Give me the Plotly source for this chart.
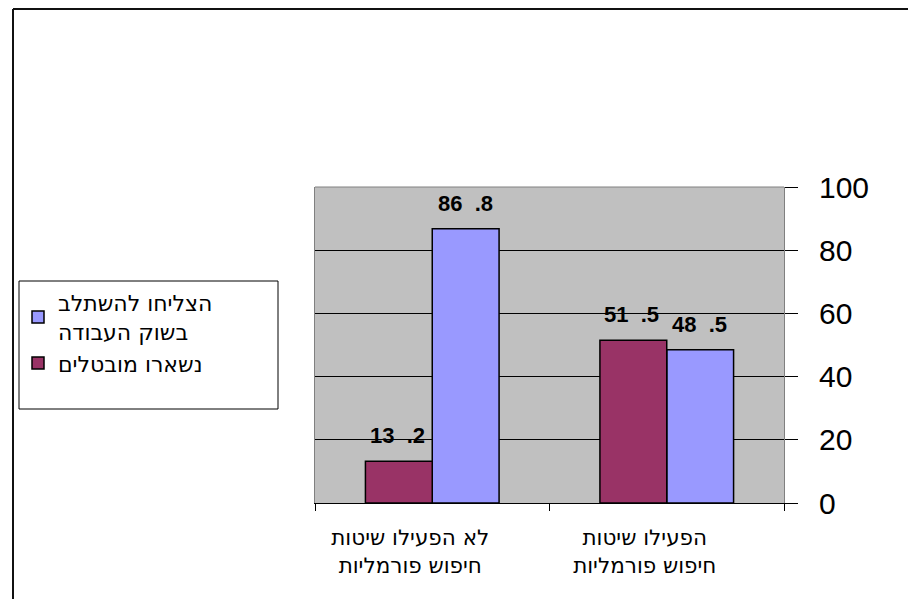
import plotly.graph_objects as go

# Data
categories = ["הפעילו שיטות חיפוש פורמליות", "לא הפעילו שיטות חיפוש פורמליות"]
category_labels = ["הפעילו שיטות<br>חיפוש פורמליות", "לא הפעילו שיטות<br>חיפוש פורמליות"]
series_names = ["הצליחו להשתלב<br>בשוק העבודה", "נשארו מובטלים"]
employed = [48.5, 86.8]
unemployed = [51.5, 13.2]
y_ticks = [0, 20, 40, 60, 80, 100]

colors = ["#9999FF", "#993366"]
series_values = [employed, unemployed]

W, H = 908, 599
ML, MR, MT, MB = 315, 124, 187, 96
PW, PH = W - ML - MR, H - MT - MB


def px_x(p):
    return (p - ML) / PW


def px_y(p):
    return (H - MB - p) / PH


def rtl_label(v):
    whole, frac = f"{v:.1f}".split(".")
    return f"{whole}\u00a0\u00a0.{frac}"


fig = go.Figure()
for name, vals, col in zip(series_names, series_values, colors):
    fig.add_trace(go.Bar(
        x=categories, y=vals, name=name,
        marker=dict(color=col, line=dict(color="black", width=1.5)),
        hoverinfo="skip",
    ))

# value labels above each bar (series 0 sits on the right of each group on the reversed axis)
annotations = []
group_half = 34
for i, vals in enumerate(series_values):
    shift = group_half if i == 0 else -group_half
    for c, v in zip(categories, vals):
        annotations.append(dict(
            x=c, y=v, xref="x", yref="y", text=f"<b>{rtl_label(v)}</b>",
            showarrow=False, xanchor="center", yanchor="bottom",
            xshift=shift - 1, yshift=11,
            font=dict(family="Liberation Sans, Arial", size=22, color="black"),
        ))

shapes = [
    # plot area top edge
    dict(type="line", xref="paper", yref="paper", x0=0, x1=1, y0=1, y1=1,
         line=dict(color="#808080", width=1), layer="above"),
    # legend frame
    dict(type="rect", xref="paper", yref="paper",
         x0=px_x(19), x1=px_x(278), y0=px_y(409), y1=px_y(281),
         line=dict(color="black", width=1), fillcolor="white", layer="below"),
    # chart frame (top and left)
    dict(type="line", xref="paper", yref="paper",
         x0=px_x(13), x1=px_x(W + 2), y0=px_y(9), y1=px_y(9),
         line=dict(color="#111111", width=2)),
    dict(type="line", xref="paper", yref="paper",
         x0=px_x(13), x1=px_x(13), y0=px_y(9), y1=px_y(H + 2),
         line=dict(color="#111111", width=2)),
]

fig.update_layout(
    width=W, height=H,
    margin=dict(l=ML, r=MR, t=MT, b=MB, pad=0, autoexpand=False),
    paper_bgcolor="white", plot_bgcolor="#C0C0C0",
    barmode="group", bargap=0.43, bargroupgap=0,
    showlegend=True,
    legend=dict(
        x=px_x(18), y=px_y(282), xanchor="left", yanchor="top",
        bgcolor="rgba(0,0,0,0)", borderwidth=0,
        font=dict(family="DejaVu Sans", size=22, color="black"),
        traceorder="normal", itemclick=False,
    ),
    annotations=annotations,
    shapes=shapes,
    xaxis=dict(
        type="category", categoryorder="array", categoryarray=categories,
        autorange="reversed", automargin=False,
        tickmode="array", tickvals=categories, ticktext=category_labels,
        tickangle=0,
        tickson="boundaries", ticks="outside", ticklen=7, tickcolor="black",
        showline=True, linecolor="black", linewidth=1,
        showgrid=False, zeroline=False,
        tickfont=dict(family="DejaVu Sans", size=21.5, color="black"),
        ticklabelstandoff=15, ticklabelshift=22,
    ),
    yaxis=dict(
        side="right", range=[0, 100], tickmode="array", tickvals=y_ticks,
        automargin=False,
        ticks="outside", ticklen=13, tickcolor="black",
        showline=True, linecolor="#808080", linewidth=1, mirror=True,
        showgrid=True, gridcolor="black", gridwidth=1, zeroline=False,
        tickfont=dict(family="Liberation Sans, Arial", size=30, color="black"),
        ticklabelstandoff=15,
    ),
)

fig.write_html("out.html")
